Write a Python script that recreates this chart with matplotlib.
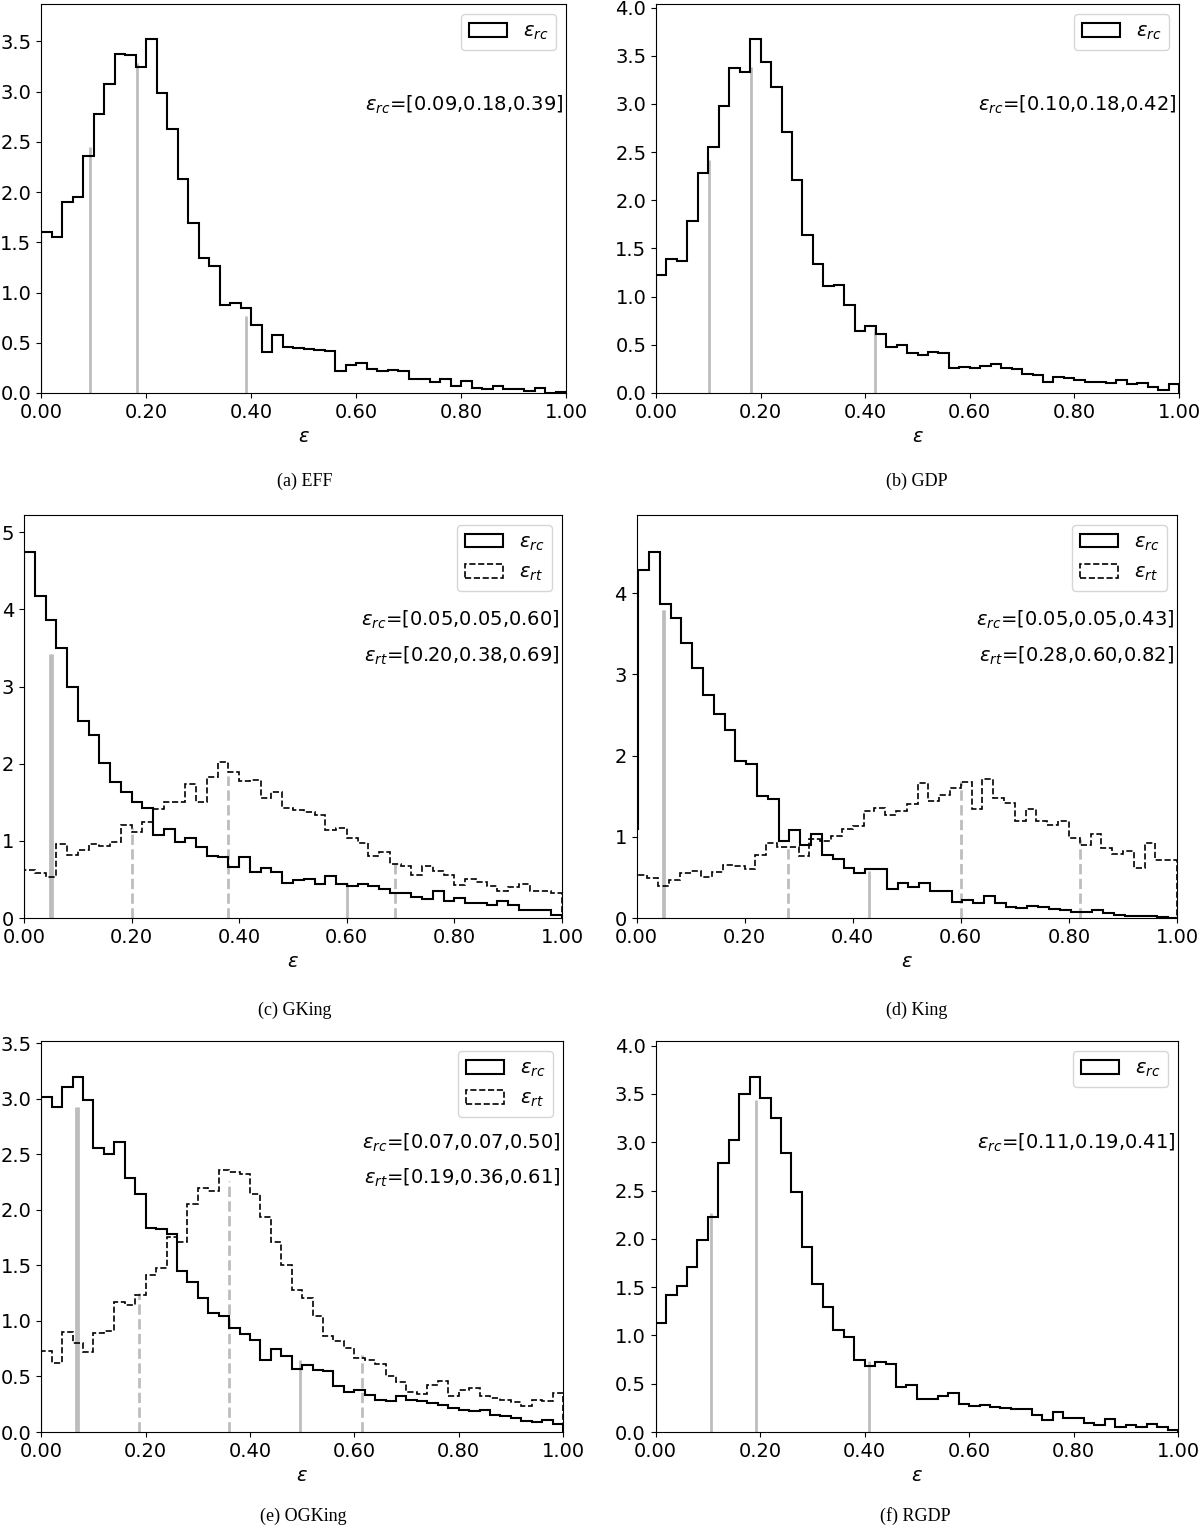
import numpy as np
import matplotlib
matplotlib.use("Agg")
import matplotlib.pyplot as plt
from matplotlib.ticker import FormatStrFormatter, MultipleLocator

plt.rcParams["font.family"] = ["DejaVu Sans"]
plt.rcParams["font.size"] = 14
plt.rcParams["mathtext.fontset"] = "dejavusans"

# 50 bins on [0, 1]
BIN_EDGES = np.linspace(0.0, 1.0, 51)
# King eps_rc histogram sits on edges shifted a little to the right
KING_RC_EDGES = np.arange(52) * 0.02 - 0.017

# ---------------------------------------------------------------------------
# (a) EFF
eff_rc = [1.60, 1.55, 1.90, 1.95, 2.36, 2.78, 3.08, 3.37, 3.36, 3.24,
          3.52, 2.99, 2.63, 2.13, 1.69, 1.34, 1.26, 0.88, 0.90, 0.85,
          0.68, 0.41, 0.58, 0.46, 0.45, 0.435, 0.425, 0.415, 0.22, 0.28,
          0.30, 0.24, 0.22, 0.23, 0.22, 0.14, 0.14, 0.11, 0.14, 0.07,
          0.12, 0.05, 0.04, 0.07, 0.04, 0.04, 0.02, 0.05, 0.00, 0.01]
eff_rc_q = [0.093, 0.182, 0.390]
eff_rc_qh = [2.45, 3.28, 0.77]

# (b) GDP
gdp_rc = [1.22, 1.39, 1.37, 1.79, 2.28, 2.55, 2.98, 3.37, 3.33, 3.67,
          3.43, 3.18, 2.71, 2.21, 1.64, 1.34, 1.11, 1.12, 0.91, 0.64,
          0.70, 0.61, 0.48, 0.50, 0.42, 0.39, 0.43, 0.41, 0.26, 0.27,
          0.26, 0.28, 0.30, 0.26, 0.25, 0.20, 0.19, 0.11, 0.17, 0.16,
          0.13, 0.11, 0.11, 0.10, 0.13, 0.09, 0.10, 0.06, 0.03, 0.09]
gdp_rc_q = [0.102, 0.182, 0.418]
gdp_rc_qh = [2.42, 3.38, 0.67]

# (c) GKing
gking_rc = [4.75, 4.18, 3.86, 3.50, 3.00, 2.56, 2.37, 2.01, 1.76, 1.64,
            1.50, 1.42, 1.08, 1.16, 0.98, 1.04, 0.92, 0.81, 0.79, 0.66,
            0.79, 0.60, 0.65, 0.59, 0.46, 0.49, 0.50, 0.44, 0.54, 0.44,
            0.42, 0.44, 0.42, 0.38, 0.33, 0.33, 0.27, 0.25, 0.35, 0.22,
            0.26, 0.20, 0.19, 0.17, 0.22, 0.17, 0.11, 0.10, 0.10, 0.04]
gking_rt = [0.62, 0.58, 0.53, 0.96, 0.82, 0.88, 0.96, 0.93, 0.99, 1.21,
            1.12, 1.25, 1.41, 1.51, 1.50, 1.74, 1.51, 1.83, 2.02, 1.89,
            1.77, 1.79, 1.56, 1.63, 1.42, 1.40, 1.37, 1.33, 1.14, 1.17,
            1.04, 0.97, 0.81, 0.85, 0.70, 0.68, 0.56, 0.67, 0.61, 0.56,
            0.43, 0.50, 0.47, 0.41, 0.35, 0.40, 0.44, 0.35, 0.35, 0.33]
gking_rc_q = [0.048, 0.052, 0.600]
gking_rc_qh = [3.42, 3.42, 0.45]
gking_rt_q = [0.200, 0.380, 0.690]
gking_rt_qh = [1.17, 1.84, 0.73]

# (d) King  (rc has 51 values on KING_RC_EDGES)
king_rc = [1.09, 4.28, 4.51, 3.86, 3.69, 3.39, 3.08, 2.75, 2.51, 2.31,
           1.93, 1.89, 1.50, 1.47, 0.95, 1.08, 0.90, 1.04, 0.78, 0.73,
           0.62, 0.555, 0.60, 0.60, 0.36, 0.43, 0.38, 0.43, 0.33, 0.33,
           0.20, 0.22, 0.185, 0.27, 0.185, 0.14, 0.12, 0.15, 0.13, 0.115,
           0.10, 0.07, 0.08, 0.095, 0.06, 0.04, 0.02, 0.03, 0.02, 0.01, 0.0]
king_rt = [0.53, 0.49, 0.40, 0.47, 0.555, 0.58, 0.51, 0.57, 0.65, 0.64,
           0.60, 0.77, 0.925, 0.88, 0.875, 0.76, 0.97, 0.945, 1.01, 1.09,
           1.13, 1.32, 1.35, 1.27, 1.32, 1.40, 1.66, 1.44, 1.52, 1.60,
           1.67, 1.34, 1.71, 1.48, 1.42, 1.19, 1.34, 1.20, 1.15, 1.20,
           0.99, 0.90, 1.04, 0.86, 0.79, 0.82, 0.61, 0.925, 0.72, 0.72]
king_rc_q = [0.049, 0.051, 0.430]
king_rc_qh = [3.79, 3.79, 0.58]
king_rt_q = [0.280, 0.600, 0.820]
king_rt_qh = [0.86, 1.69, 0.97]

# (e) OGKing
ogking_rc = [3.02, 2.93, 3.11, 3.20, 2.99, 2.56, 2.50, 2.61, 2.29, 2.14,
             1.84, 1.83, 1.78, 1.45, 1.35, 1.21, 1.07, 1.04, 0.94, 0.88,
             0.83, 0.65, 0.75, 0.68, 0.57, 0.60, 0.56, 0.55, 0.41, 0.36,
             0.38, 0.33, 0.29, 0.28, 0.32, 0.29, 0.28, 0.26, 0.24, 0.22,
             0.20, 0.19, 0.20, 0.15, 0.14, 0.13, 0.10, 0.09, 0.11, 0.07]
ogking_rt = [0.73, 0.62, 0.90, 0.80, 0.72, 0.89, 0.91, 1.17, 1.14, 1.23,
             1.41, 1.48, 1.76, 1.71, 2.05, 2.20, 2.17, 2.36, 2.34, 2.32,
             2.14, 1.94, 1.71, 1.50, 1.28, 1.21, 1.04, 0.86, 0.82, 0.76,
             0.67, 0.65, 0.61, 0.50, 0.45, 0.36, 0.34, 0.42, 0.46, 0.32,
             0.38, 0.40, 0.32, 0.31, 0.29, 0.27, 0.23, 0.29, 0.28, 0.35]
ogking_rc_q = [0.066, 0.071, 0.496]
ogking_rc_qh = [2.93, 2.93, 0.65]
ogking_rt_q = [0.188, 0.360, 0.614]
ogking_rt_qh = [1.25, 2.26, 0.69]

# (f) RGDP
rgdp_rc = [1.13, 1.42, 1.51, 1.71, 1.99, 2.23, 2.78, 3.02, 3.50, 3.68,
           3.46, 3.25, 2.89, 2.48, 1.92, 1.53, 1.29, 1.06, 0.98, 0.75,
           0.68, 0.72, 0.70, 0.47, 0.49, 0.34, 0.34, 0.37, 0.40, 0.29,
           0.27, 0.28, 0.26, 0.25, 0.24, 0.24, 0.18, 0.12, 0.21, 0.15,
           0.15, 0.09, 0.07, 0.13, 0.05, 0.07, 0.05, 0.08, 0.05, 0.02]
rgdp_rc_q = [0.106, 0.192, 0.408]
rgdp_rc_qh = [2.27, 3.44, 0.74]

GRAY = "#bdbdbd"
W, H = 1200, 1533


def axes_rect(left, right, top, bottom):
    """pixel box -> figure fraction rect"""
    return [left / W, 1 - bottom / H, (right - left) / W, (bottom - top) / H]


def q_label(name, q):
    return r"$\varepsilon_{%s}$=[%.2f,%.2f,%.2f]" % (name, q[0], q[1], q[2])


def draw_panel(ax, rc, rc_q, rc_qh, rc_edges=BIN_EDGES,
               rt=None, rt_q=None, rt_qh=None, ystep=0.5):
    ax.vlines(rc_q, 0, rc_qh, colors=GRAY, lw=2, zorder=1)
    ax.hist(rc_edges[:-1], bins=rc_edges, weights=rc, histtype="step",
            color="black", lw=1.5, label=r"$\varepsilon_{rc}$", zorder=2)
    ymax = max(rc)
    ax.text(0.995, 0.74, q_label("rc", rc_q), transform=ax.transAxes,
            ha="right", va="center")
    if rt is not None:
        ax.vlines(rt_q, 0, rt_qh, colors=GRAY, lw=2, linestyles="--", zorder=1)
        ax.hist(BIN_EDGES[:-1], bins=BIN_EDGES, weights=rt, histtype="step",
                color="black", lw=1.2, ls="--", label=r"$\varepsilon_{rt}$",
                zorder=2)
        ymax = max(ymax, max(rt))
        ax.text(0.995, 0.65, q_label("rt", rt_q), transform=ax.transAxes,
                ha="right", va="center")
    ax.set_xlim(0, 1)
    ax.set_ylim(0, 1.1 * ymax)
    ax.xaxis.set_major_locator(MultipleLocator(0.2))
    ax.xaxis.set_major_formatter(FormatStrFormatter("%.2f"))
    ax.yaxis.set_major_locator(MultipleLocator(ystep))
    ax.set_xlabel(r"$\varepsilon$")
    ax.legend(loc="upper right")


fig = plt.figure(figsize=(W / 100, H / 100), dpi=100)

ax_a = fig.add_axes(axes_rect(41, 566, 4, 393))
draw_panel(ax_a, eff_rc, eff_rc_q, eff_rc_qh)

ax_b = fig.add_axes(axes_rect(656, 1179, 4, 393))
draw_panel(ax_b, gdp_rc, gdp_rc_q, gdp_rc_qh)

ax_c = fig.add_axes(axes_rect(24, 562, 515, 918))
draw_panel(ax_c, gking_rc, gking_rc_q, gking_rc_qh,
           rt=gking_rt, rt_q=gking_rt_q, rt_qh=gking_rt_qh, ystep=1)

ax_d = fig.add_axes(axes_rect(636.5, 1177, 515, 918))
draw_panel(ax_d, king_rc, king_rc_q, king_rc_qh, rc_edges=KING_RC_EDGES,
           rt=king_rt, rt_q=king_rt_q, rt_qh=king_rt_qh, ystep=1)

ax_e = fig.add_axes(axes_rect(41.3, 563, 1041, 1432))
draw_panel(ax_e, ogking_rc, ogking_rc_q, ogking_rc_qh,
           rt=ogking_rt, rt_q=ogking_rt_q, rt_qh=ogking_rt_qh)

ax_f = fig.add_axes(axes_rect(655.7, 1178, 1041, 1432))
draw_panel(ax_f, rgdp_rc, rgdp_rc_q, rgdp_rc_qh)

# sub-figure captions
captions = [("(a) EFF", 305, 481), ("(b) GDP", 917, 481),
            ("(c) GKing", 295, 1010), ("(d) King", 917, 1010),
            ("(e) OGKing", 303, 1516), ("(f) RGDP", 915, 1516)]
for text, cx, cy in captions:
    fig.text(cx / W, 1 - cy / H, text, ha="center", va="center",
             family="Liberation Serif", fontsize=13)

fig.savefig("out.png", dpi=100, facecolor="white")
